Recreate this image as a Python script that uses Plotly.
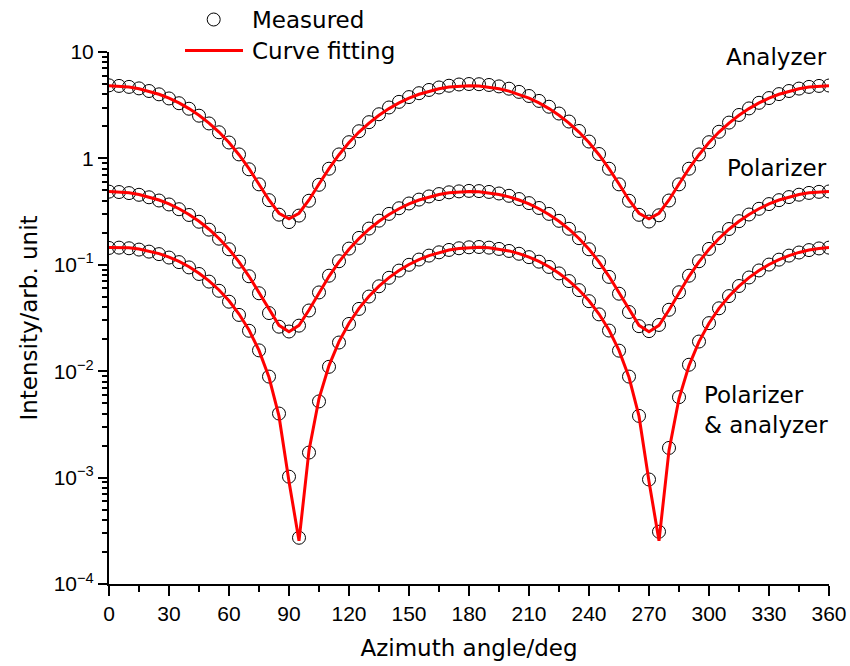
import plotly.graph_objects as go

# ---------------- data ----------------
angle_deg = [0, 5, 10, 15, 20, 25, 30, 35, 40, 45, 50, 55, 60, 65, 70, 75, 80, 85, 90,
             95, 100, 105, 110, 115, 120, 125, 130, 135, 140, 145, 150, 155, 160, 165, 170, 175, 180,
             185, 190, 195, 200, 205, 210, 215, 220, 225, 230, 235, 240, 245, 250, 255, 260, 265, 270,
             275, 280, 285, 290, 295, 300, 305, 310, 315, 320, 325, 330, 335, 340, 345, 350, 355, 360]

analyzer_measured = [4.86, 4.80, 4.70, 4.55, 4.30, 4.00, 3.66, 3.30, 2.93, 2.52, 2.13, 1.76, 1.41, 1.09, 0.79, 0.57, 0.405, 0.296, 0.252,
                     0.290, 0.400, 0.565, 0.800, 1.09, 1.42, 1.80, 2.19, 2.60, 3.01, 3.40, 3.77, 4.10, 4.40, 4.64, 4.82, 4.95, 5.00,
                     4.98, 4.90, 4.75, 4.52, 4.22, 3.86, 3.47, 3.06, 2.64, 2.22, 1.81, 1.44, 1.10, 0.80, 0.57, 0.40, 0.295, 0.255,
                     0.292, 0.402, 0.570, 0.800, 1.09, 1.42, 1.78, 2.17, 2.56, 2.95, 3.33, 3.69, 4.02, 4.30, 4.53, 4.70, 4.80, 4.84]

analyzer_fit = [4.82, 4.785, 4.683, 4.515, 4.288, 4.007, 3.683, 3.323, 2.940, 2.545, 2.150, 1.767, 1.408, 1.083, 0.802, 0.575, 0.407, 0.305, 0.270,
                0.305, 0.407, 0.575, 0.802, 1.083, 1.408, 1.767, 2.150, 2.545, 2.940, 3.323, 3.683, 4.007, 4.288, 4.515, 4.683, 4.785, 4.82,
                4.785, 4.683, 4.515, 4.288, 4.007, 3.683, 3.323, 2.940, 2.545, 2.150, 1.767, 1.408, 1.083, 0.802, 0.575, 0.407, 0.305, 0.270,
                0.305, 0.407, 0.575, 0.802, 1.083, 1.408, 1.767, 2.150, 2.545, 2.940, 3.323, 3.683, 4.007, 4.288, 4.515, 4.683, 4.785, 4.82]

polarizer_measured = [0.487, 0.483, 0.472, 0.455, 0.431, 0.402, 0.369, 0.333, 0.294, 0.254, 0.214, 0.176, 0.140, 0.107, 0.078, 0.0540, 0.0352, 0.0262, 0.0236,
                      0.0268, 0.0372, 0.0550, 0.0790, 0.108, 0.142, 0.179, 0.219, 0.260, 0.301, 0.340, 0.377, 0.410, 0.439, 0.462, 0.480, 0.490, 0.495,
                      0.493, 0.484, 0.468, 0.445, 0.415, 0.380, 0.342, 0.301, 0.259, 0.218, 0.178, 0.140, 0.106, 0.0770, 0.0535, 0.0360, 0.0265, 0.0238,
                      0.0272, 0.0378, 0.0552, 0.0790, 0.108, 0.141, 0.178, 0.217, 0.257, 0.297, 0.336, 0.372, 0.405, 0.433, 0.456, 0.474, 0.485, 0.489]

polarizer_fit = [0.4895, 0.4860, 0.4755, 0.4583, 0.4350, 0.4063, 0.3730, 0.3362, 0.2970, 0.2565, 0.2160, 0.1768, 0.1400, 0.1067, 0.0780, 0.0547, 0.0376, 0.0270, 0.0235,
                 0.0270, 0.0376, 0.0547, 0.0780, 0.1067, 0.1400, 0.1768, 0.2160, 0.2565, 0.2970, 0.3362, 0.3730, 0.4063, 0.4350, 0.4583, 0.4755, 0.4860, 0.4895,
                 0.4860, 0.4755, 0.4583, 0.4350, 0.4063, 0.3730, 0.3362, 0.2970, 0.2565, 0.2160, 0.1768, 0.1400, 0.1067, 0.0780, 0.0547, 0.0376, 0.0270, 0.0235,
                 0.0270, 0.0376, 0.0547, 0.0780, 0.1067, 0.1400, 0.1768, 0.2160, 0.2565, 0.2970, 0.3362, 0.3730, 0.4063, 0.4350, 0.4583, 0.4755, 0.4860, 0.4895]

pol_ana_measured = [0.144, 0.145, 0.143, 0.139, 0.133, 0.126, 0.117, 0.106, 0.0945, 0.082, 0.0695, 0.057, 0.0450, 0.0338, 0.0240, 0.0157, 0.0089, 0.0040, 0.00102,
                    0.000272, 0.00172, 0.0052, 0.0110, 0.0186, 0.0278, 0.0385, 0.0503, 0.0628, 0.0755, 0.0882, 0.100, 0.112, 0.122, 0.131, 0.138, 0.143, 0.146,
                    0.147, 0.145, 0.141, 0.135, 0.127, 0.118, 0.107, 0.0955, 0.083, 0.0703, 0.0578, 0.0455, 0.0342, 0.0241, 0.0156, 0.0089, 0.0038, 0.00096,
                    0.00031, 0.0019, 0.0057, 0.0115, 0.0190, 0.0283, 0.0390, 0.0508, 0.0632, 0.0760, 0.0885, 0.1005, 0.1118, 0.1220, 0.1305, 0.1375, 0.1425, 0.1450]

pol_ana_fit = [0.1455, 0.1462, 0.1446, 0.1409, 0.1351, 0.1275, 0.1182, 0.1075, 0.0958, 0.0834, 0.0707, 0.0580, 0.0459, 0.0345, 0.02436, 0.01568, 0.00876, 0.00378, 0.000921,
               0.000255, 0.00180, 0.00553, 0.01130, 0.01896, 0.02827, 0.03894, 0.05065, 0.06305, 0.07576, 0.08839, 0.1006, 0.1119, 0.1221, 0.1307, 0.1377, 0.1426, 0.1455,
               0.1462, 0.1446, 0.1409, 0.1351, 0.1275, 0.1182, 0.1075, 0.0958, 0.0834, 0.0707, 0.0580, 0.0459, 0.0345, 0.02436, 0.01568, 0.00876, 0.00378, 0.000921,
               0.000255, 0.00180, 0.00553, 0.01130, 0.01896, 0.02827, 0.03894, 0.05065, 0.06305, 0.07576, 0.08839, 0.1006, 0.1119, 0.1221, 0.1307, 0.1377, 0.1426, 0.1455]

series_labels = ["Analyzer", "Polarizer", "Polarizer<br>& analyzer"]
legend_labels = ["Measured", "Curve fitting"]

y_tick_vals = [1e-4, 1e-3, 1e-2, 1e-1, 1, 10]
y_tick_text = ["10<sup>\u22124</sup>", "10<sup>\u22123</sup>", "10<sup>\u22122</sup>", "10<sup>\u22121</sup>", "1", "10"]
x_tick_vals = [0, 30, 60, 90, 120, 150, 180, 210, 240, 270, 300, 330, 360]

# ---------------- figure ----------------
TEXT_FONT = "DejaVu Sans"
TICK_FONT = "Liberation Sans"

FIG_W, FIG_H = 850, 666
# plot area in page pixels: x 109..829, y 52..584
PX0, PX1, PY0, PY1 = 109, 829, 52, 584

def px(x):
    return (x - PX0) / (PX1 - PX0)

def py(y):
    return (PY1 - y) / (PY1 - PY0)

fig = go.Figure()

measured = [analyzer_measured, polarizer_measured, pol_ana_measured]
fitted = [analyzer_fit, polarizer_fit, pol_ana_fit]

for lab, ys in zip(series_labels, measured):
    fig.add_trace(go.Scatter(
        x=angle_deg, y=ys, mode="markers", name=legend_labels[0] + " - " + lab.replace("<br>", " "),
        marker=dict(symbol="circle-open", size=13, color="black", line=dict(width=1, color="black")),
        showlegend=False,
    ))
for lab, ys in zip(series_labels, fitted):
    fig.add_trace(go.Scatter(
        x=angle_deg, y=ys, mode="lines", name=legend_labels[1] + " - " + lab.replace("<br>", " "),
        line=dict(color="#ff0000", width=3),
        showlegend=False,
    ))

minor_y = [m * 10 ** e for e in range(-4, 1) for m in range(2, 10)]

fig.update_xaxes(
    range=[0, 360], tickmode="array", tickvals=x_tick_vals,
    ticks="outside", ticklen=10, tickwidth=2, tickcolor="black",
    showline=True, linewidth=2, linecolor="black", mirror=False,
    showgrid=False, zeroline=False,
    minor=dict(tickmode="linear", tick0=15, dtick=30, ticks="outside", ticklen=6, tickwidth=2, tickcolor="black", showgrid=False),
    tickfont=dict(family=TICK_FONT, size=21, color="black"),
    ticklabeloverflow="allow",
    title=dict(text="Azimuth angle/deg", font=dict(family=TEXT_FONT, size=23, color="black"), standoff=16),
)
fig.update_yaxes(
    type="log", range=[-4, 1], tickmode="array", tickvals=y_tick_vals, ticktext=y_tick_text,
    ticks="outside", ticklen=9, tickwidth=2, tickcolor="black",
    showline=True, linewidth=2, linecolor="black", mirror=False,
    showgrid=False, zeroline=False,
    minor=dict(tickmode="array", tickvals=minor_y, ticks="outside", ticklen=5, tickwidth=1.5, tickcolor="black", showgrid=False),
    tickfont=dict(family=TICK_FONT, size=21, color="black"),
    title=dict(text="Intensity/arb. unit", font=dict(family=TEXT_FONT, size=23, color="black"), standoff=10),
)

txt = dict(family=TEXT_FONT, size=23, color="black")
annotations = [
    dict(text=series_labels[0], x=1.0, y=py(57), xanchor="right", yanchor="middle", showarrow=False, font=txt),
    dict(text=series_labels[1], x=1.0, y=py(168), xanchor="right", yanchor="middle", showarrow=False, font=txt),
    dict(text=series_labels[2], x=px(702), y=py(410), xanchor="left", yanchor="middle", align="left", showarrow=False, font=txt),
    dict(text=legend_labels[0], x=px(250), y=py(20), xanchor="left", yanchor="middle", showarrow=False, font=txt),
    dict(text=legend_labels[1], x=px(250), y=py(51), xanchor="left", yanchor="middle", showarrow=False, font=txt),
]
for a in annotations:
    a.update(xref="paper", yref="paper")

shapes = [
    dict(type="circle", xref="paper", yref="paper", xsizemode="pixel", ysizemode="pixel",
         xanchor=px(213.7), yanchor=py(19.5), x0=-6.5, x1=6.5, y0=-6.5, y1=6.5,
         line=dict(color="black", width=1)),
    dict(type="line", xref="paper", yref="paper", x0=px(185), x1=px(243), y0=py(50.5), y1=py(50.5),
         line=dict(color="#ff0000", width=3)),
]

fig.update_layout(
    width=FIG_W, height=FIG_H,
    margin=dict(l=PX0, r=FIG_W - PX1, t=PY0, b=FIG_H - PY1, autoexpand=False),
    paper_bgcolor="white", plot_bgcolor="white",
    showlegend=False,
    annotations=annotations, shapes=shapes,
)

fig.write_html(
    "out.html",
    config={"displayModeBar": False},
    post_script="document.body.style.margin='0';document.body.style.overflow='hidden';",
)
